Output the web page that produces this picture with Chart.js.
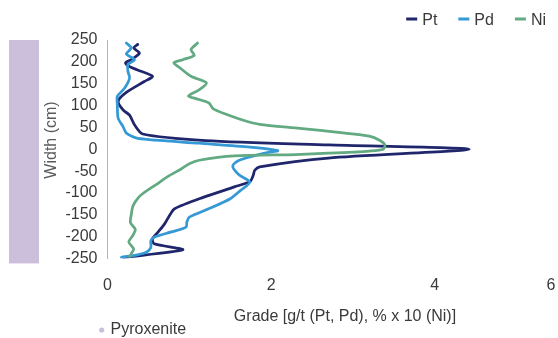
<!DOCTYPE html>
<html>
<head>
<meta charset="utf-8">
<script src="https://cdn.jsdelivr.net/npm/chart.js@4/dist/chart.umd.min.js"></script>
<style>
  html, body { margin: 0; padding: 0; background: #fff; overflow: hidden; }
  canvas { display: block; }
</style>
</head>
<body>
<canvas id="profile" width="558" height="338"></canvas>
<script>
// Grade profiles across the reef: width position (cm) and grade at each sample
const ptWidth = [240, 232, 220, 205, 198, 189, 182, 167, 155, 130, 110, 90, 78, 56, 35, 20, 10, 0,
  -20, -40, -48, -60, -74, -86, -110, -136, -151, -170, -189, -205, -216, -230, -247];
const ptGrade = [0.37, 0.32, 0.39, 0.29, 0.22, 0.27, 0.36, 0.55, 0.45, 0.23, 0.13, 0.19, 0.27, 0.33, 0.43, 1.2, 2.7, 4.42,
  2.7, 1.86, 1.80, 1.78, 1.74, 1.55, 1.17, 0.82, 0.76, 0.70, 0.62, 0.55, 0.57, 0.92, 0.20];

const pdWidth = [243, 232, 218, 205, 194, 178, 163, 140, 121, 102, 71, 52, 37, 25, 14, 5, -3,
  -8, -25, -38, -59, -75, -95, -113, -135, -155, -166, -178, -189, -201, -209, -224, -235, -242, -247];
const pdGrade = [0.23, 0.29, 0.23, 0.33, 0.25, 0.25, 0.27, 0.21, 0.12, 0.12, 0.13, 0.19, 0.23, 0.37, 1.12, 1.74, 2.08,
  1.94, 1.61, 1.53, 1.61, 1.74, 1.62, 1.5, 1.25, 1.0, 0.97, 0.96, 0.78, 0.57, 0.53, 0.53, 0.48, 0.35, 0.17];

const niWidth = [243, 228, 215, 205, 198, 187, 167, 152, 136, 122, 116, 106, 93, 80, 67, 57, 48, 38, 30, 20, 10, 0,
  -4, -9, -12, -15, -25, -33, -45, -62, -80, -100, -112, -130, -150, -168, -183, -197, -212, -228, -239, -245];
const niGrade = [1.10, 1.02, 1.06, 0.92, 0.81, 0.88, 1.02, 1.21, 1.12, 0.99, 1.08, 1.24, 1.29, 1.45, 1.65, 1.86, 2.35, 2.85, 3.2, 3.33, 3.39, 3.37,
  3.2, 2.7, 2.3, 1.55, 1.12, 1.0, 0.9, 0.74, 0.6, 0.44, 0.37, 0.31, 0.29, 0.28, 0.34, 0.31, 0.26, 0.32, 0.29, 0.27];

// Pyroxenite interval (cm), shown as a band beside the width axis
const pyroxeniteInterval = [-261, 250];

// Axis ticks
const widthTicks = [250, 200, 150, 100, 50, 0, -50, -100, -150, -200, -250];
const gradeTicks = [0, 2, 4, 6];
const gradeTickLabels = ['0', '2', '4', '6'];
const gradeAxisEnd = 5.42; // visible end of the grade axis; the last tick label is pinned here

const FONT = '"Liberation Sans", Arial, Helvetica, sans-serif';
const TEXT = '#3a3a3a';
const COLORS = { Pt: '#1f266b', Pd: '#3599d6', Ni: '#62aa82', Pyroxenite: '#cbbfdb' };

const toPoints = (grades, widths) => grades.map((g, i) => ({ x: g, y: widths[i] }));

Chart.defaults.font.family = FONT;
Chart.defaults.font.size = 16;
Chart.defaults.color = TEXT;

const decorations = {
  id: 'decorations',
  beforeDraw(chart) {
    const { ctx, scales: { y } } = chart;
    // pyroxenite band
    const top = y.getPixelForValue(pyroxeniteInterval[1]);
    const bottom = y.getPixelForValue(pyroxeniteInterval[0]);
    ctx.save();
    ctx.fillStyle = COLORS.Pyroxenite;
    ctx.fillRect(9, top, 30, bottom - top);
    ctx.restore();
  },
  afterDraw(chart) {
    const ctx = chart.ctx;
    ctx.save();
    ctx.font = '16px ' + FONT;
    ctx.fillStyle = TEXT;
    ctx.textBaseline = 'alphabetic';
    ctx.textAlign = 'left';

    // series legend, right aligned at the top
    const items = chart.data.datasets.map(ds => ({ label: ds.label, color: ds.borderColor }));
    let right = 546;
    for (let i = items.length - 1; i >= 0; i--) {
      const it = items[i];
      const tw = ctx.measureText(it.label).width;
      const textX = right - tw;
      const markEnd = textX - 5;
      const markStart = markEnd - 11;
      ctx.fillStyle = it.color;
      ctx.fillRect(markStart, 17.5, 11, 3);
      ctx.fillStyle = TEXT;
      ctx.fillText(it.label, textX, 25.2);
      right = markStart - 21;
    }

    // pyroxenite legend entry at the bottom
    ctx.fillStyle = COLORS.Pyroxenite;
    ctx.beginPath();
    ctx.arc(101.7, 330, 2.6, 0, Math.PI * 2);
    ctx.fill();
    ctx.fillStyle = TEXT;
    ctx.fillText('Pyroxenite', 110.5, 334);

    // grade axis title
    ctx.textAlign = 'center';
    ctx.textBaseline = 'middle';
    ctx.fillText('Grade [g/t (Pt, Pd), % x 10 (Ni)]', 345, 316.4);

    // width axis title
    ctx.translate(51.5, 140);
    ctx.rotate(-Math.PI / 2);
    ctx.fillStyle = '#5a5a5a';
    ctx.fillText('Width (cm)', 0, 0);
    ctx.restore();
  }
};

new Chart(document.getElementById('profile'), {
  type: 'scatter',
  data: {
    datasets: [
      { label: 'Pt', data: toPoints(ptGrade, ptWidth), borderColor: COLORS.Pt, backgroundColor: COLORS.Pt, showLine: true, order: 3 },
      { label: 'Pd', data: toPoints(pdGrade, pdWidth), borderColor: COLORS.Pd, backgroundColor: COLORS.Pd, showLine: true, order: 2 },
      { label: 'Ni', data: toPoints(niGrade, niWidth), borderColor: COLORS.Ni, backgroundColor: COLORS.Ni, showLine: true, order: 1 }
    ]
  },
  options: {
    responsive: false,
    animation: false,
    devicePixelRatio: 1,
    layout: { padding: { left: 62, right: 7, top: 40, bottom: 12 } },
    elements: {
      line: { borderWidth: 2.75, tension: 0.25, fill: false, borderCapStyle: 'round', borderJoinStyle: 'round' },
      point: { radius: 0, hoverRadius: 0 }
    },
    plugins: { legend: { display: false }, tooltip: { enabled: false } },
    scales: {
      x: {
        type: 'linear',
        min: 0,
        max: gradeAxisEnd,
        grid: { display: false, drawTicks: false },
        border: { display: false },
        afterBuildTicks: s => { s.ticks = gradeTicks.map(v => ({ value: Math.min(v, gradeAxisEnd) })); },
        afterFit: s => { s.height = 67.4; s.paddingLeft = 0; s.paddingRight = 0; },
        ticks: {
          padding: 17,
          maxRotation: 0,
          autoSkip: false,
          color: TEXT,
          font: { size: 16 },
          callback: (v, i) => gradeTickLabels[i]
        },
        title: { display: false }
      },
      y: {
        type: 'linear',
        min: -250,
        max: 250,
        grid: { display: false, drawTicks: false },
        border: { display: true, color: '#b5b5b5', width: 1 },
        afterBuildTicks: s => { s.ticks = widthTicks.map(v => ({ value: v })); },
        afterFit: s => { s.width = 45.5; s.paddingTop = 0; s.paddingBottom = 0; },
        ticks: {
          padding: 10,
          autoSkip: false,
          color: TEXT,
          font: { size: 16 },
          callback: v => String(v)
        }
      }
    }
  },
  plugins: [decorations]
});
</script>
</body>
</html>
